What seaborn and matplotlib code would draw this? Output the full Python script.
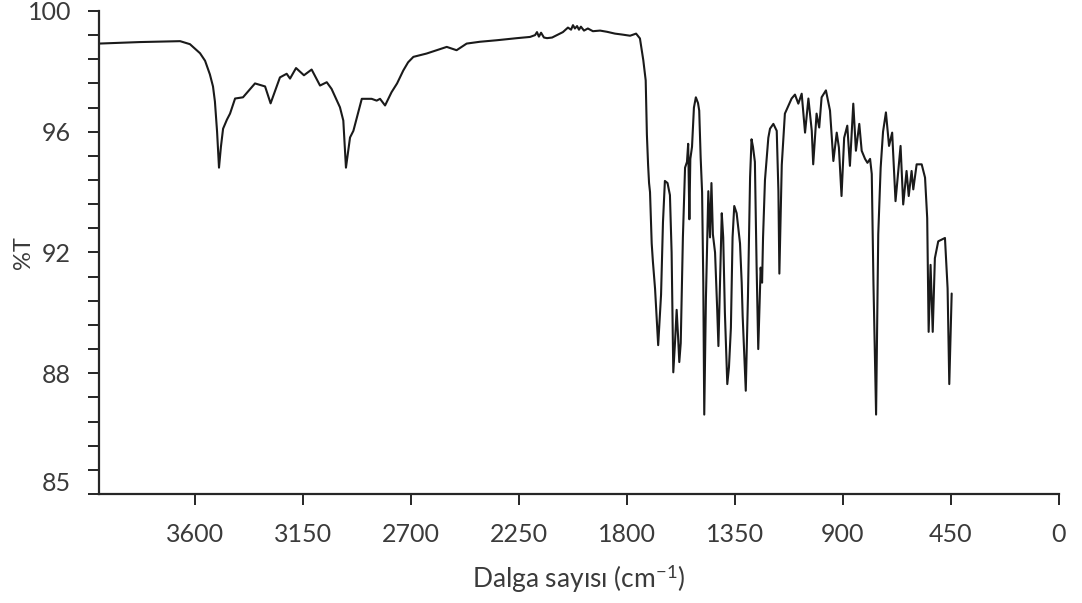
import numpy as np
import pandas as pd
import seaborn as sns
import matplotlib.pyplot as plt
from matplotlib.ticker import FixedLocator, FixedFormatter, NullFormatter
from matplotlib.transforms import ScaledTranslation

# FT-IR spectrum: wavenumber (cm-1) and transmittance (%T)
wavenumber = [
    4000, 3830, 3662, 3621, 3579, 3558, 3538, 3525, 3517, 3508, 3500, 3492,
    3483, 3467, 3454, 3433, 3400, 3350, 3308, 3285, 3246, 3218, 3204, 3179,
    3146, 3114, 3079, 3051, 3031, 2996, 2982, 2971, 2954, 2940, 2905, 2864,
    2843, 2829, 2808, 2781, 2758, 2732, 2712, 2690, 2635, 2551, 2510, 2468,
    2413, 2343, 2258, 2204, 2183, 2175, 2167, 2158, 2146, 2133, 2112, 2092,
    2067, 2046, 2033, 2025, 2017, 2008, 2000, 1992, 1979, 1963, 1942, 1912,
    1883, 1850, 1821, 1787, 1762, 1746, 1732, 1722, 1717, 1712, 1708, 1704,
    1697, 1692, 1683, 1670, 1658, 1650, 1642, 1631, 1621, 1614, 1607, 1600,
    1593, 1587, 1582, 1576, 1567, 1558, 1550, 1545, 1540, 1536, 1529, 1521,
    1513, 1504, 1499, 1493, 1487, 1482, 1478, 1471, 1461, 1454, 1448, 1442,
    1433, 1424, 1419, 1414, 1405, 1399, 1392, 1382, 1375, 1367, 1360, 1353,
    1343, 1329, 1322, 1318, 1305, 1296, 1287, 1281, 1275, 1267, 1260, 1253,
    1243, 1237, 1233, 1225, 1211, 1204, 1190, 1176, 1169, 1165, 1155, 1142,
    1114, 1100, 1086, 1072, 1058, 1044, 1030, 1024, 1010, 999, 989, 971,
    954, 940, 926, 917, 906, 895, 882, 871, 857, 846, 832, 822,
    808, 798, 787, 780, 773, 762, 753, 743, 733, 721, 708, 695,
    681, 660, 649, 635, 626, 614, 607, 593, 572, 558, 549, 543,
    535, 526, 517, 503, 475, 464, 457, 447,
]
transmittance = [
    98.92, 98.97, 99.00, 98.90, 98.60, 98.35, 97.90, 97.50, 97.00, 96.00, 94.81, 95.50,
    96.10, 96.40, 96.60, 97.10, 97.14, 97.60, 97.50, 96.94, 97.80, 97.92, 97.76, 98.11,
    97.87, 98.06, 97.53, 97.64, 97.42, 96.81, 96.37, 94.81, 95.81, 96.03, 97.09, 97.09,
    97.03, 97.09, 96.87, 97.31, 97.60, 98.03, 98.30, 98.48, 98.59, 98.81, 98.70, 98.92,
    98.98, 99.03, 99.10, 99.14, 99.20, 99.30, 99.15, 99.28, 99.12, 99.10, 99.12, 99.20,
    99.30, 99.45, 99.38, 99.53, 99.42, 99.50, 99.38, 99.48, 99.35, 99.42, 99.33, 99.35,
    99.31, 99.25, 99.22, 99.18, 99.25, 99.09, 98.37, 97.70, 95.90, 94.90, 94.30, 94.00,
    92.30, 91.70, 90.80, 88.93, 90.60, 93.00, 94.37, 94.30, 93.90, 92.00, 88.03, 89.00,
    90.10, 89.20, 88.37, 89.00, 92.50, 94.81, 95.00, 95.60, 93.10, 95.10, 95.50, 96.80,
    97.14, 96.95, 96.70, 95.15, 94.00, 91.00, 86.63, 90.50, 94.03, 92.50, 94.30, 92.60,
    92.00, 90.10, 88.90, 90.50, 93.30, 92.50, 90.00, 87.64, 88.20, 89.50, 92.50, 93.54,
    93.30, 92.30, 91.00, 89.90, 87.42, 90.50, 94.50, 95.75, 95.50, 95.00, 91.60, 88.80,
    91.50, 91.00, 92.50, 94.40, 95.80, 96.10, 96.26, 96.03, 94.03, 91.30, 94.90, 96.60,
    97.10, 97.23, 96.93, 97.26, 95.97, 97.10, 96.03, 94.92, 96.60, 96.14, 97.14, 97.37,
    96.70, 95.03, 95.97, 95.48, 93.87, 95.80, 96.20, 94.87, 96.93, 95.37, 96.26, 95.37,
    95.10, 94.97, 95.10, 94.60, 91.00, 86.63, 92.60, 94.80, 96.00, 96.64, 95.53, 95.97,
    93.70, 95.53, 93.59, 94.70, 93.87, 94.70, 94.09, 94.92, 94.92, 94.48, 93.14, 89.37,
    91.59, 89.37, 91.81, 92.37, 92.48, 90.81, 87.64, 90.64,
]

x_ticks = [3600, 3150, 2700, 2250, 1800, 1350, 900, 450, 0]
y_ticks = [84, 88, 92, 96, 100]
y_tick_labels = ["85", "88", "92", "96", "100"]

df = pd.DataFrame({"wavenumber": wavenumber, "T": transmittance})

sns.set_theme(style="white")
plt.rcParams["font.family"] = ["Lato", "DejaVu Sans"]
plt.rcParams["mathtext.fontset"] = "custom"
plt.rcParams["mathtext.rm"] = "Lato"
plt.rcParams["mathtext.it"] = "Lato:italic"
plt.rcParams["mathtext.bf"] = "Lato:bold"

text_color = "#3b3b3b"
axis_color = "#262626"

fig = plt.figure(figsize=(10.82, 6.03), dpi=100)
ax = fig.add_axes([0.0915, 0.1808, 0.8872, 0.8010])

sns.lineplot(data=df, x="wavenumber", y="T", ax=ax, sort=False,
             estimator=None, color="#1a1a1a", linewidth=1.5)

ax.set_xlim(4000, 0)
ax.set_ylim(84, 100)

for side in ("top", "right"):
    ax.spines[side].set_visible(False)
for side in ("left", "bottom"):
    ax.spines[side].set_color(axis_color)
    ax.spines[side].set_linewidth(1.6)

ax.xaxis.set_major_locator(FixedLocator(x_ticks))
ax.set_xticklabels([str(v) for v in x_ticks])
ax.yaxis.set_major_locator(FixedLocator(y_ticks))
ax.yaxis.set_major_formatter(FixedFormatter(y_tick_labels))
ax.yaxis.set_minor_locator(FixedLocator(np.round(np.arange(84, 100.01, 0.8), 2)))
ax.yaxis.set_minor_formatter(NullFormatter())

ax.tick_params(axis="both", which="both", direction="out", length=8,
               width=1.4, color=axis_color, labelcolor=text_color, labelsize=18,
               bottom=True, left=True)
ax.tick_params(axis="x", which="major", pad=13)
ax.tick_params(axis="y", which="major", pad=12)

# lowest y label sits a little above the axis line
bottom_label = ax.get_yticklabels()[0]
bottom_label.set_transform(bottom_label.get_transform() +
                           ScaledTranslation(0, 9 / 72, fig.dpi_scale_trans))

ax.set_xlabel("Dalga sayısı (cm$^{\\mathrm{-1}}$)", fontsize=19, color=text_color)
ax.set_ylabel("%T", fontsize=17, color=text_color)
ax.xaxis.set_label_coords(0.5, -0.142)
ax.yaxis.set_label_coords(-0.068, 0.5)

fig.savefig("out.png", dpi=100, facecolor="white")
